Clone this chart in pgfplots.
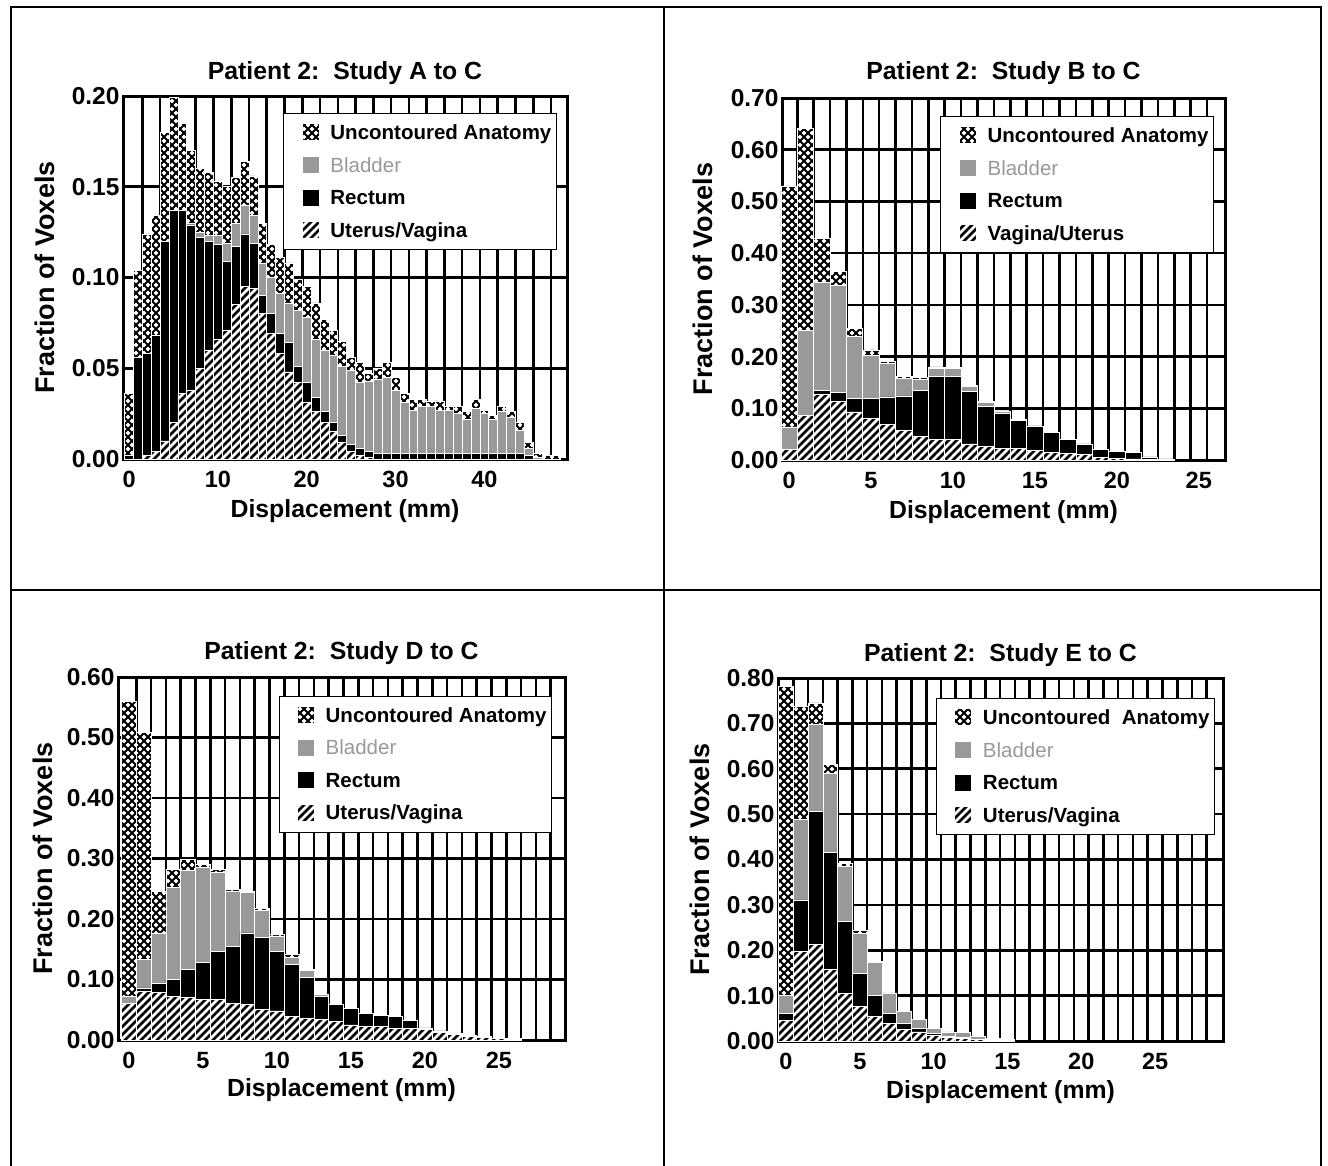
\documentclass[border=0pt]{standalone}
\usepackage{fontspec}
\setmainfont{Liberation Sans}
\usepackage{pgfplots}
\pgfplotsset{compat=1.18}
\usepackage{pgfplotstable}
\usetikzlibrary{patterns}

% diamond mesh for "Uncontoured Anatomy"
\pgfdeclarepatternformonly{diamonds}{\pgfqpoint{-1pt}{-1pt}}{\pgfqpoint{9pt}{9pt}}{\pgfqpoint{8pt}{8pt}}{%
  \pgfsetlinewidth{2pt}%
  \pgfpathmoveto{\pgfqpoint{0pt}{0pt}}\pgfpathlineto{\pgfqpoint{8.1pt}{8.1pt}}%
  \pgfpathmoveto{\pgfqpoint{0pt}{8pt}}\pgfpathlineto{\pgfqpoint{8.1pt}{-0.1pt}}%
  \pgfusepath{stroke}}
% diagonal hatch for uterus/vagina
\pgfdeclarepatternformonly{hatch}{\pgfqpoint{-1pt}{-1pt}}{\pgfqpoint{9pt}{9pt}}{\pgfqpoint{8pt}{8pt}}{%
  \pgfsetlinewidth{2.6pt}%
  \pgfpathmoveto{\pgfqpoint{0pt}{0pt}}\pgfpathlineto{\pgfqpoint{8.1pt}{8.1pt}}%
  \pgfusepath{stroke}}

\newcommand{\fs}[1]{\fontsize{#1}{#1}\selectfont\bfseries}

% columns: x, uterus, rectum, bladder, uncontoured (stacked thicknesses)
\pgfplotstableread{
x u r b c
0 0 0.002 0 0.034
1 0 0.056 0 0.048
2 0.002 0.056 0 0.066
3 0.004 0.064 0 0.066
4 0.010 0.110 0 0.060
5 0.020 0.117 0 0.062
6 0.036 0.101 0 0.048
7 0.038 0.091 0.001 0.040
8 0.050 0.072 0.003 0.035
9 0.060 0.060 0.003 0.035
10 0.066 0.052 0.005 0.030
11 0.071 0.038 0.010 0.031
12 0.085 0.032 0.013 0.025
13 0.095 0.029 0.016 0.024
14 0.094 0.025 0.015 0.022
15 0.080 0.010 0.018 0.022
16 0.069 0.011 0.020 0.018
17 0.058 0.011 0.022 0.020
18 0.048 0.016 0.022 0.022
19 0.042 0.009 0.031 0.017
20 0.031 0.011 0.036 0.017
21 0.026 0.008 0.032 0.020
22 0.020 0.006 0.034 0.017
23 0.015 0.005 0.037 0.014
24 0.009 0.004 0.038 0.014
25 0.004 0.004 0.041 0.007
26 0.002 0.004 0.036 0.011
27 0.001 0.003 0.039 0.004
28 0 0.003 0.041 0.006
29 0 0.003 0.042 0.008
30 0 0.003 0.035 0.007
31 0 0.003 0.028 0.005
32 0 0.003 0.024 0.006
33 0 0.003 0.026 0.004
34 0 0.003 0.026 0.003
35 0 0.003 0.024 0.005
36 0 0.003 0.024 0.002
37 0 0.003 0.022 0.004
38 0 0.003 0.019 0.004
39 0 0.003 0.025 0.005
40 0 0.003 0.022 0.002
41 0 0.003 0.019 0.002
42 0 0.003 0.023 0.003
43 0 0.003 0.020 0.003
44 0 0.003 0.013 0.004
45 0 0.002 0.004 0.003
46 0 0 0.001 0.002
47 0 0 0 0.002
48 0 0 0 0.002
}\tabA

\pgfplotstableread{
x u r b c
0 0.020 0 0.044 0.466
1 0.087 0 0.164 0.391
2 0.126 0.009 0.208 0.086
3 0.113 0.017 0.208 0.026
4 0.093 0.026 0.120 0.016
5 0.081 0.038 0.084 0.010
6 0.068 0.054 0.065 0.003
7 0.057 0.067 0.034 0.004
8 0.045 0.090 0.021 0.004
9 0.040 0.121 0.016 0.003
10 0.039 0.123 0.015 0.002
11 0.031 0.101 0.010 0.002
12 0.027 0.077 0.008 0.002
13 0.023 0.067 0.004 0.001
14 0.023 0.054 0.001 0
15 0.019 0.047 0 0
16 0.014 0.039 0 0
17 0.013 0.027 0 0
18 0.010 0.021 0 0
19 0.005 0.016 0 0
20 0.003 0.014 0 0
21 0.002 0.012 0 0
22 0.001 0.005 0 0
23 0 0.002 0 0
}\tabB

\pgfplotstableread{
x u r b c
0 0.061 0 0.011 0.487
1 0.081 0.005 0.047 0.376
2 0.078 0.016 0.083 0.069
3 0.072 0.028 0.152 0.030
4 0.070 0.047 0.164 0.018
5 0.067 0.061 0.157 0.005
6 0.067 0.080 0.130 0.005
7 0.061 0.094 0.091 0.003
8 0.059 0.118 0.067 0.002
9 0.050 0.119 0.045 0.004
10 0.048 0.099 0.025 0.002
11 0.039 0.086 0.012 0.004
12 0.036 0.067 0.012 0.002
13 0.034 0.038 0.003 0
14 0.031 0.028 0 0
15 0.025 0.027 0 0
16 0.023 0.021 0 0
17 0.022 0.018 0 0
18 0.019 0.020 0 0
19 0.019 0.014 0 0
20 0.017 0.003 0 0
21 0.012 0.003 0 0
22 0.009 0.002 0 0
23 0.006 0.002 0 0
24 0.004 0.002 0 0
25 0.002 0.001 0 0
26 0.001 0.001 0 0
}\tabD

\pgfplotstableread{
x u r b c
0 0.046 0.015 0.040 0.681
1 0.197 0.114 0.177 0.249
2 0.212 0.294 0.191 0.048
3 0.157 0.258 0.175 0.019
4 0.105 0.158 0.122 0.007
5 0.076 0.073 0.089 0.005
6 0.054 0.047 0.072 0.002
7 0.039 0.022 0.043 0.002
8 0.026 0.013 0.026 0.001
9 0.020 0.008 0.020 0
10 0.013 0.003 0.012 0
11 0.008 0.002 0.010 0
12 0.005 0.002 0.011 0
13 0.003 0.001 0.006 0
14 0.002 0.001 0.003 0
15 0.001 0.001 0.002 0
}\tabE

\pgfplotsset{
  panel/.style={
    scale only axis,
    anchor=south west,
    ybar stacked,
    bar width=1,
    enlargelimits=false,
    clip=false,
    ymin=0,
    axis line style={line width=3pt},
    major tick length=0pt, minor tick length=0pt,
    ymajorgrids, xminorgrids,
    major grid style={line width=2.6pt, black},
    minor grid style={line width=2.6pt, black},
    /pgf/number format/assume math mode=true,
    yticklabel style={font=\fs{24.5}, /pgf/number format/fixed, /pgf/number format/fixed zerofill, /pgf/number format/precision=2},
    xticklabel style={font=\fs{23.5}, yshift=-9pt},
    xlabel style={font=\fs{24.8}},
    ylabel style={font=\fs{27}},
    title style={font=\fs{24.8}},
    xlabel={Displacement (mm)},
    ylabel={Fraction of Voxels},
    reverse legend,
    legend cell align=left,
    legend style={anchor=north east, draw=black, line width=0.8pt, fill=white,
      font=\fs{20.5}, row sep=12.5pt, inner xsep=3pt, inner ysep=9pt,
      /tikz/every odd column/.append style={column sep=9pt}},
    legend image code/.code={\path (-15pt,0pt); \draw[##1] (0pt,-8pt) rectangle (17pt,9pt);},
  },
  uterus/.style={fill=white, draw=white, line width=0.7pt, postaction={pattern=hatch}},
  rectum/.style={fill=black, draw=white, line width=0.7pt},
  bladder/.style={fill=black!40, draw=white, line width=0.7pt},
  uncont/.style={fill=white, draw=white, line width=0.7pt, postaction={pattern=diamonds}},
}

\newcommand{\frameit}{\draw[line width=3pt] (rel axis cs:0,0) rectangle (rel axis cs:1,1);}

\begin{document}
\begin{tikzpicture}
\useasboundingbox (0pt,0pt) rectangle (1328pt,-1165pt);
% panel frame
\draw[line width=1.5pt] (11pt,-1170pt) -- (11pt,-7pt) -- (1321pt,-7pt) -- (1321pt,-1170pt);
\draw[line width=1.5pt] (664pt,-7pt) -- (664pt,-1170pt);
\draw[line width=1.5pt] (11pt,-590pt) -- (1321pt,-590pt);

% A to C
\begin{axis}[panel,
  at={(123pt,-459pt)}, width=444pt, height=363pt,
  xmin=-0.68, xmax=49.3, ymax=0.2,
  xtick={0,10,20,30,40}, ytick={0,0.05,0.1,0.15,0.2},
  minor xtick={1.5,3.5,...,47.5},
  title={Patient 2:\ \ Study A to C},
  title style={at={(axis description cs:0.5,1.047)}, anchor=center},
  xlabel style={at={(axis description cs:0.5,-0.143)}, anchor=center},
  ylabel style={at={(axis description cs:-0.176,0.5)}, anchor=center},
  legend style={at={(axis description cs:0.977,0.953)}},
]
\addplot[uterus] table[x=x,y=u] {\tabA};
\addplot[rectum] table[x=x,y=r] {\tabA};
\addplot[bladder] table[x=x,y=b] {\tabA};
\addplot[uncont] table[x=x,y=c] {\tabA};
\legend{Uterus/Vagina, Rectum, {\color{black!40}\mdseries Bladder}, Uncontoured Anatomy}
\frameit
\end{axis}

% B to C
\begin{axis}[panel,
  at={(782pt,-460pt)}, width=443pt, height=362pt,
  xmin=-0.43, xmax=26.6, ymax=0.7,
  xtick={0,5,10,15,20,25}, ytick={0,0.1,0.2,0.3,0.4,0.5,0.6,0.7},
  minor xtick={0.5,1.5,...,25.5},
  title={Patient 2:\ \ Study B to C},
  title style={at={(axis description cs:0.5,1.053)}, anchor=center},
  xlabel style={at={(axis description cs:0.5,-0.144)}, anchor=center},
  ylabel style={at={(axis description cs:-0.178,0.5)}, anchor=center},
  legend style={at={(axis description cs:0.975,0.95)}},
]
\addplot[uterus] table[x=x,y=u] {\tabB};
\addplot[rectum] table[x=x,y=r] {\tabB};
\addplot[bladder] table[x=x,y=b] {\tabB};
\addplot[uncont] table[x=x,y=c] {\tabB};
\legend{Vagina/Uterus, Rectum, {\color{black!40}\mdseries Bladder}, Uncontoured Anatomy}
\frameit
\end{axis}

% D to C
\begin{axis}[panel,
  at={(118pt,-1040pt)}, width=447pt, height=363pt,
  xmin=-0.74, xmax=29.46, ymax=0.6,
  xtick={0,5,10,15,20,25}, ytick={0,0.1,0.2,0.3,0.4,0.5,0.6},
  minor xtick={0.5,1.5,...,28.5},
  title={Patient 2:\ \ Study D to C},
  title style={at={(axis description cs:0.5,1.050)}, anchor=center},
  xlabel style={at={(axis description cs:0.5,-0.138)}, anchor=center},
  ylabel style={at={(axis description cs:-0.168,0.5)}, anchor=center},
  legend style={at={(axis description cs:0.971,0.948)}},
]
\addplot[uterus] table[x=x,y=u] {\tabD};
\addplot[rectum] table[x=x,y=r] {\tabD};
\addplot[bladder] table[x=x,y=b] {\tabD};
\addplot[uncont] table[x=x,y=c] {\tabD};
\legend{Uterus/Vagina, Rectum, {\color{black!40}\mdseries Bladder}, Uncontoured Anatomy}
\frameit
\end{axis}

% E to C
\begin{axis}[panel,
  at={(778pt,-1041pt)}, width=445pt, height=363pt,
  xmin=-0.54, xmax=29.6, ymax=0.8,
  xtick={0,5,10,15,20,25}, ytick={0,0.1,0.2,0.3,0.4,0.5,0.6,0.7,0.8},
  minor xtick={0.5,1.5,...,28.5},
  title={Patient 2:\ \ Study E to C},
  title style={at={(axis description cs:0.5,1.047)}, anchor=center},
  xlabel style={at={(axis description cs:0.5,-0.14)}, anchor=center},
  ylabel style={at={(axis description cs:-0.175,0.5)}, anchor=center},
  legend style={at={(axis description cs:0.982,0.945)}},
]
\addplot[uterus] table[x=x,y=u] {\tabE};
\addplot[rectum] table[x=x,y=r] {\tabE};
\addplot[bladder] table[x=x,y=b] {\tabE};
\addplot[uncont] table[x=x,y=c] {\tabE};
\legend{Uterus/Vagina, Rectum, {\color{black!40}\mdseries Bladder}, Uncontoured\ \ Anatomy}
\frameit
\end{axis}
\end{tikzpicture}
\end{document}
